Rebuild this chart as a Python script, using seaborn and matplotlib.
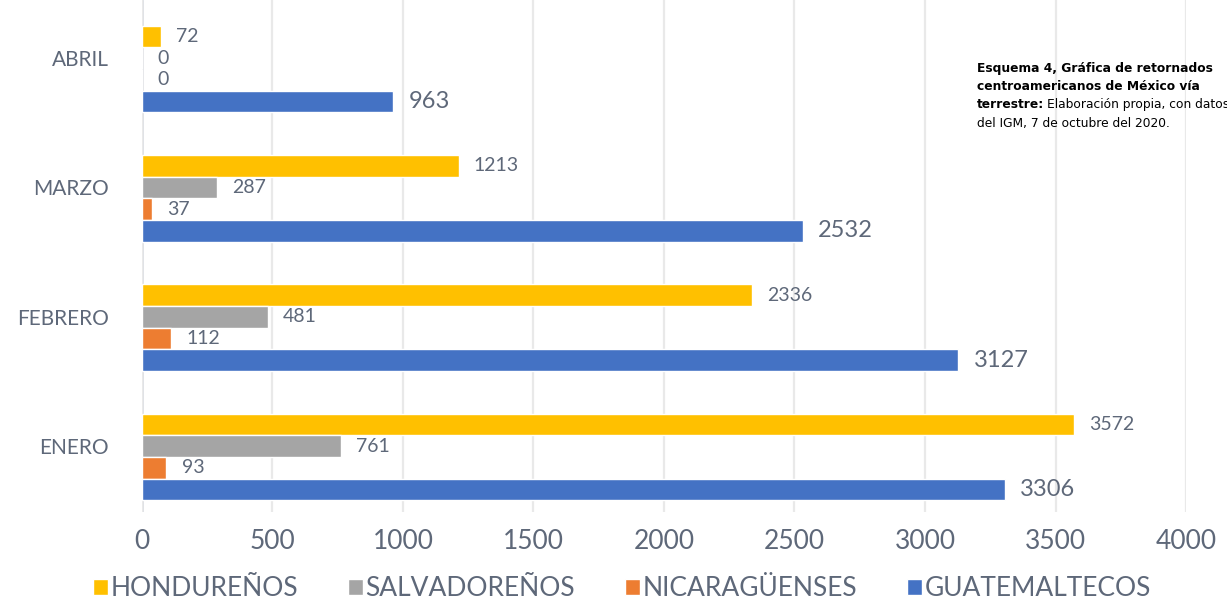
import numpy as np
import matplotlib
matplotlib.use("Agg")
import matplotlib.pyplot as plt
from matplotlib.patches import Patch
import pandas as pd
import seaborn as sns

# Data
meses = ["ABRIL", "MARZO", "FEBRERO", "ENERO"]
hondurenos = [72, 1213, 2336, 3572]
salvadorenos = [0, 287, 481, 761]
nicaraguenses = [0, 37, 112, 93]
guatemaltecos = [963, 2532, 3127, 3306]

series = ["HONDUREÑOS", "SALVADOREÑOS", "NICARAGÜENSES", "GUATEMALTECOS"]
colores = ["#FFC000", "#A5A5A5", "#ED7D31", "#4472C4"]

df = pd.DataFrame({"mes": meses, series[0]: hondurenos, series[1]: salvadorenos,
                   series[2]: nicaraguenses, series[3]: guatemaltecos})
df = df.melt(id_vars="mes", var_name="pais", value_name="n")

txt = "#5E6879"
sns.set_style("white")
plt.rcParams["font.family"] = ["Lato", "DejaVu Sans"]

fig = plt.figure(figsize=(12.27, 6.01), dpi=100)
ax = fig.add_axes([0.1157, 0.148, 0.8509, 0.852])

# an empty hue level at the top keeps the Excel spacing (hidden series)
palette = dict(zip(series, colores))
palette[" "] = "white"
sns.barplot(data=df, y="mes", x="n", hue="pais", order=meses,
            hue_order=[" "] + series, palette=palette, orient="h",
            width=0.84, saturation=1, legend=False, ax=ax)

for cont, nombre in zip(ax.containers[-4:], series):
    size = 17 if nombre == "GUATEMALTECOS" else 14
    ax.bar_label(cont, fmt="%d", padding=11, fontsize=size, color=txt)

ax.set_xlim(0, 4000)
ax.set_ylim(3.51, -0.45)
ax.set_xticks(np.arange(0, 4001, 500))
ax.grid(axis="x", color="#E9E9E9", linewidth=1.6)
ax.axvline(0, color="#DCDFE4", linewidth=2, zorder=0.5)
ax.set_axisbelow(True)
for s in ax.spines.values():
    s.set_visible(False)
ax.tick_params(axis="x", labelsize=19, colors=txt, pad=12, length=0)
ax.tick_params(axis="y", labelsize=15, colors=txt, pad=24, length=0)
ax.set_xlabel("")
ax.set_ylabel("")

handles = [Patch(facecolor=c, label=s) for s, c in zip(series, colores)]
fig.legend(handles=handles, loc="lower center", bbox_to_anchor=(0.507, -0.04),
           ncol=4, frameon=False, fontsize=19, labelcolor=txt,
           handlelength=0.55, handleheight=0.55, handletextpad=0.1, columnspacing=1.9)

# source note
nota = dict(fontsize=8.8, color="black", va="baseline", family="DejaVu Sans")
fx = 977 / 1227
fig.text(fx, 1 - 72 / 601, "Esquema 4, Gráfica de retornados", fontweight="bold", **nota)
fig.text(fx, 1 - 90 / 601, "centroamericanos de México vía", fontweight="bold", **nota)
t3 = fig.text(fx, 1 - 108 / 601, "terrestre:", fontweight="bold", **nota)
fig.canvas.draw()
bb = t3.get_window_extent()
fig.text(bb.x1 / fig.bbox.width + 0.002, 1 - 108 / 601, "Elaboración propia, con datos", **nota)
fig.text(fx, 1 - 127 / 601, "del IGM, 7 de octubre del 2020.", **nota)

fig.savefig("out.png", dpi=100)
